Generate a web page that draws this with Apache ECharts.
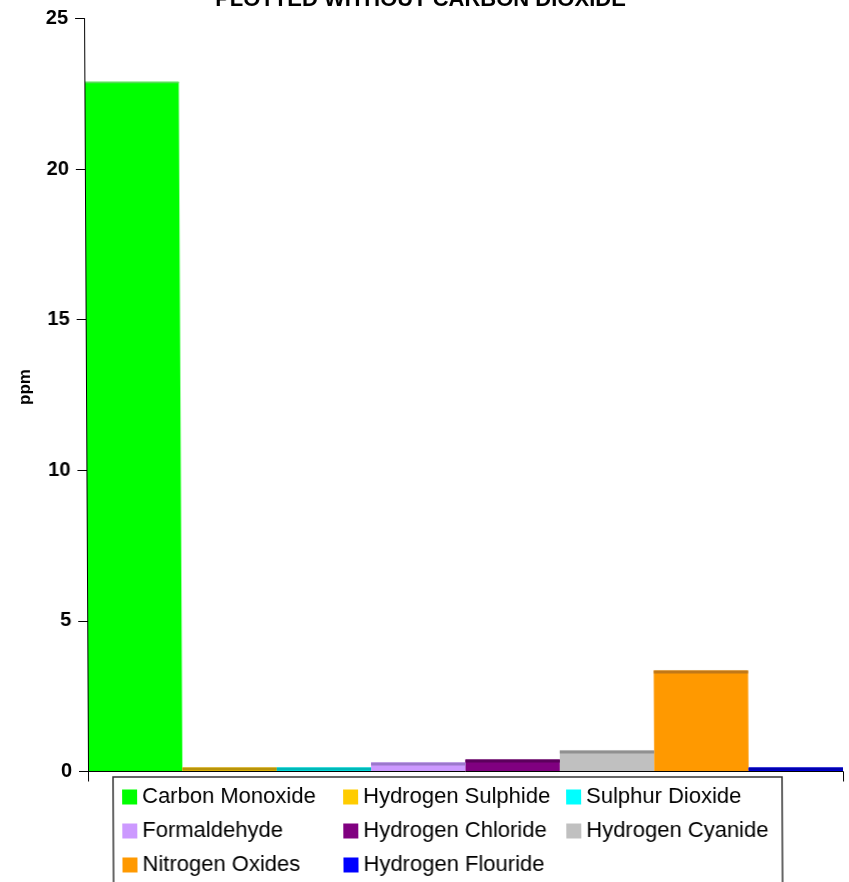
<!DOCTYPE html>
<html>
<head>
<meta charset="utf-8">
<style>
  html, body { margin: 0; padding: 0; background: #fff; overflow: hidden; }
  /* slight lean of the whole drawing, pivoting on the baseline */
  #chart { width: 849px; height: 882px; transform: skewX(0.3deg); transform-origin: 0 771px; }
</style>
<script src="https://cdn.jsdelivr.net/npm/echarts@6/dist/echarts.min.js"></script>
</head>
<body>
<div id="chart"></div>
<script>
// Gas concentrations (ppm), one bar per gas
const gases = ['Carbon Monoxide', 'Hydrogen Sulphide', 'Sulphur Dioxide', 'Formaldehyde',
               'Hydrogen Chloride', 'Hydrogen Cyanide', 'Nitrogen Oxides', 'Hydrogen Flouride'];
const ppmValues = [22.9, 0.13, 0.13, 0.3, 0.4, 0.7, 3.35, 0.13];
const faceColors = ['#00FF00', '#FFCC00', '#00FFFF', '#CC99FF', '#800080', '#C0C0C0', '#FF9900', '#0000FF'];
const topColors  = ['#5ADA5A', '#B8930A', '#00B8B8', '#9B78CC', '#5C005C', '#909090', '#C07818', '#0000B0'];
const categories = [''];

// Legend columns
const legendCols = [
  ['Carbon Monoxide', 'Formaldehyde', 'Nitrogen Oxides'],
  ['Hydrogen Sulphide', 'Hydrogen Chloride', 'Hydrogen Flouride'],
  ['Sulphur Dioxide', 'Hydrogen Cyanide']
];

const FONT = '"Liberation Sans", Arial, sans-serif';
const chart = echarts.init(document.getElementById('chart'));

const barSeries = gases.map((g, i) => ({
  type: 'bar',
  name: g,
  data: [ppmValues[i]],
  barGap: '0%',
  barCategoryGap: '0%',
  itemStyle: { color: faceColors[i] },
  emphasis: { disabled: true }
}));

// Darker top edge on each bar, sized from the same values
const topEdge = {
  type: 'custom',
  name: '__top',
  silent: true,
  z: 3,
  data: ppmValues.map((v, i) => [0, v, i]),
  encode: { x: 0, y: 1 },
  renderItem: function (params, api) {
    const v = api.value(1);
    const i = api.value(2);
    const top = api.coord([0, v]);
    const base = api.coord([0, 0]);
    const band = api.size([1, 0])[0];
    const w = band / gases.length;
    const x0 = top[0] - band / 2 + i * w;
    const h = Math.min(i === 0 ? 1.5 : 3, base[1] - top[1]);
    return {
      type: 'rect',
      shape: { x: x0, y: top[1], width: w, height: h },
      style: { fill: topColors[i] }
    };
  }
};

const legendBase = {
  orient: 'vertical',
  top: 786,
  padding: 0,
  itemWidth: 15,
  itemHeight: 15,
  itemGap: 12,
  icon: 'rect',
  textStyle: { fontFamily: FONT, fontSize: 22, lineHeight: 22, color: '#000' }
};

chart.setOption({
  animation: false,
  title: {
    text: 'PLOTTED WITHOUT CARBON DIOXIDE',
    left: 'center',
    top: -16,
    textStyle: { fontFamily: FONT, fontSize: 22, fontWeight: 'bold', color: '#000' }
  },
  legend: [
    Object.assign({}, legendBase, { left: 122, data: legendCols[0] }),
    Object.assign({}, legendBase, { left: 343, data: legendCols[1] }),
    Object.assign({}, legendBase, { left: 566, data: legendCols[2] })
  ],
  grid: { left: 88, right: 6, top: 18.5, bottom: 110.5 },
  xAxis: {
    type: 'category',
    data: categories,
    z: 10,
    axisLine: { lineStyle: { color: '#000', width: 1 } },
    axisTick: { show: true, length: 10, lineStyle: { color: '#000' } },
    axisLabel: { show: false }
  },
  yAxis: {
    type: 'value',
    min: 0,
    max: 25,
    interval: 5,
    z: 10,
    name: 'ppm',
    nameLocation: 'middle',
    nameGap: 52,
    nameRotate: 90,
    nameTextStyle: { fontFamily: FONT, fontSize: 17, fontWeight: 'bold', color: '#000', padding: [0, 0, 0, 16] },
    axisLine: { show: true, lineStyle: { color: '#000', width: 1 } },
    axisTick: { show: true, length: 9, lineStyle: { color: '#000' } },
    axisLabel: { margin: 16, fontFamily: FONT, fontSize: 20, fontWeight: 'bold', color: '#000' },
    splitLine: { show: false }
  },
  graphic: [{
    type: 'rect',
    shape: { x: 113, y: 777, width: 669, height: 200 },
    style: { fill: 'none', stroke: '#333', lineWidth: 1.5 },
    silent: true
  }],
  series: barSeries.concat([topEdge])
});
</script>
</body>
</html>
